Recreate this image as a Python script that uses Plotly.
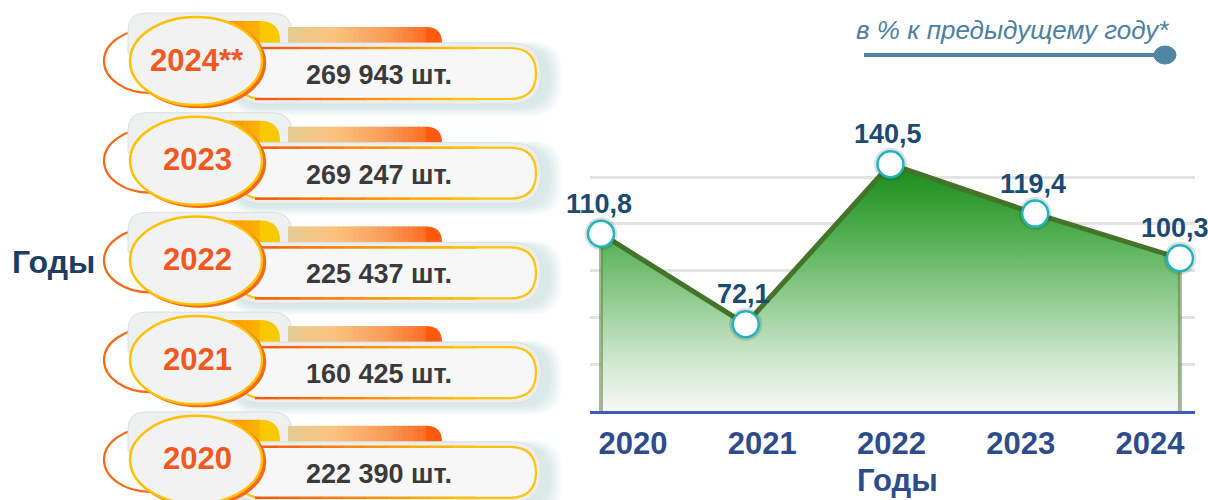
import plotly.graph_objects as go

# ---------------- data ----------------
YEARS = ["2020", "2021", "2022", "2023", "2024"]
PCT = [110.8, 72.1, 140.5, 119.4, 100.3]          # в % к предыдущему году
ROW_LABELS = ["2024**", "2023", "2022", "2021", "2020"]
ROW_COUNTS = [269943, 269247, 225437, 160425, 222390]
UNIT = "шт."
LEGEND_TEXT = "в % к предыдущему году*"
AXIS_TITLE = "Годы"

W, H = 1208, 500
Y_MIN, Y_MAX = 35, 146.6

# ---------------- helpers ----------------
def hex2rgb(h):
    h = h.lstrip("#")
    return tuple(int(h[i:i + 2], 16) for i in (0, 2, 4))

def lerp_color(stops, t):
    for (p0, c0), (p1, c1) in zip(stops[:-1], stops[1:]):
        if p0 <= t <= p1:
            f = 0 if p1 == p0 else (t - p0) / (p1 - p0)
            a, b = hex2rgb(c0), hex2rgb(c1)
            return "rgb(%d,%d,%d)" % tuple(round(a[i] + (b[i] - a[i]) * f) for i in range(3))
    return "rgb(%d,%d,%d)" % hex2rgb(stops[-1][1])

def rrect_path(x0, y0, x1, y1, r):
    tl, tr, br, bl = r
    return (f"M{x0+tl},{y0} L{x1-tr},{y0} Q{x1},{y0} {x1},{y0+tr} "
            f"L{x1},{y1-br} Q{x1},{y1} {x1-br},{y1} L{x0+bl},{y1} "
            f"Q{x0},{y1} {x0},{y1-bl} L{x0},{y0+tl} Q{x0},{y0} {x0+tl},{y0} Z")

shapes = []
annotations = []

def px_shape(**kw):
    kw.setdefault("xref", "x3")
    kw.setdefault("yref", "y3")
    shapes.append(kw)

def rrect(x0, y0, x1, y1, r, fill, line=None, lw=0):
    px_shape(type="path", path=rrect_path(x0, y0, x1, y1, r), fillcolor=fill,
             line=dict(color=line or "rgba(0,0,0,0)", width=lw))

def ellipse(cx, cy, rx, ry, fill, line, lw):
    px_shape(type="circle", x0=cx - rx, x1=cx + rx, y0=cy - ry, y1=cy + ry,
             fillcolor=fill, line=dict(color=line, width=lw))

def grad_tab(x0, y0, x1, y1, r, stops, step=5):
    xe = x1 - r
    x = x0
    while x < xe:
        xn = min(x + step, xe)
        t = ((x + xn) / 2 - x0) / (x1 - x0)
        px_shape(type="rect", x0=x, x1=xn + 0.8, y0=y0, y1=y1,
                 fillcolor=lerp_color(stops, t), line=dict(width=0))
        x = xn
    rrect(xe, y0, x1, y1, (0, r, 0, 0), lerp_color(stops, 1.0))

BOLD = dict(family="Liberation Sans, Arial", weight="bold")

# ---------------- left infographic ----------------
ROW_Y0 = 61
ROW_STEP = 99.7
for i, (lab, cnt) in enumerate(zip(ROW_LABELS, ROW_COUNTS)):
    cy = ROW_Y0 + i * ROW_STEP
    for g in range(6):
        d = 14 - g * 2.5
        rrect(232 - d * 0.3, cy - 14 - d * 0.4, 548 + d, cy + 46 + d * 0.6,
              (30, 30, 30, 30), "rgba(160,200,200,0.07)")
    ellipse(150, cy, 46, 32, "white", "#f26a1a", 2.2)
    rrect(128, cy - 48, 292, cy - 8, (18, 20, 0, 0), "#eef0f0", "rgba(215,220,220,0.9)", 1)
    grad_tab(168, cy - 40, 280, cy - 14, 20,
             [(0, "#ff6a00"), (0.6, "#ff9a00"), (1, "#f8c800")])
    grad_tab(288, cy - 34, 442, cy - 14, 16,
             [(0, "#e2cb93"), (0.3, "#fcc27f"), (0.65, "#f99a55"), (1, "#ff5a0e")])
    rrect(232, cy - 18, 541, cy + 43, (30, 30, 30, 30), "#eceeee", "rgba(220,224,224,1)", 1)
    rrect(237, cy - 13, 536, cy + 38, (26, 26, 26, 26), "#f7f7f7", "#ffc20e", 2.2)
    n = 10
    for k in range(n):
        xa = 255 + k * 22
        col = lerp_color([(0, "#f25a1a"), (1, "#ffc20e")], k / (n - 1))
        for yy in (cy - 13, cy + 38):
            px_shape(type="line", x0=xa, x1=xa + 23, y0=yy, y1=yy,
                     line=dict(color=col, width=2.4))
    ellipse(199, cy + 2, 66, 44, "#f26a1a", "#f26a1a", 2.5)
    ellipse(196, cy, 66, 44, "#f2f2f2", "#ffc000", 2.5)
    annotations.append(dict(x=197, y=cy - 1, xref="x3", yref="y3", text=lab, showarrow=False,
                            font=dict(size=31, color="#f0581f", **BOLD)))
    annotations.append(dict(x=379, y=cy + 14, xref="x3", yref="y3",
                            text=f"{cnt:,}".replace(",", " ") + " " + UNIT, showarrow=False,
                            font=dict(size=27, color="#3a3a3a", **BOLD)))

annotations.append(dict(x=53, y=262, xref="x3", yref="y3", text=AXIS_TITLE, showarrow=False,
                        font=dict(size=32, color="#1d3d63", **BOLD)))

# ---------------- caption (top right) ----------------
annotations.append(dict(x=1012, y=30, xref="x3", yref="y3", text=f"<i>{LEGEND_TEXT}</i>",
                        showarrow=False,
                        font=dict(family="Liberation Sans, Arial", size=26, color="#4d80a0")))
px_shape(type="line", x0=864, x1=1158, y0=55, y1=55, line=dict(color="#4f84a4", width=4))
ellipse(1165, 55, 11, 9, "#4f84a4", "#4f84a4", 1)

annotations.append(dict(x=897, y=480, xref="x3", yref="y3", text=AXIS_TITLE, showarrow=False,
                        font=dict(size=31, color="#2e4c8c", **BOLD)))

# ---------------- right chart ----------------
fig = go.Figure()
fig.add_trace(go.Scatter(x=YEARS, y=[Y_MIN] * len(YEARS), mode="lines",
                         line=dict(width=0, color="rgba(0,0,0,0)"), hoverinfo="skip"))
fig.add_trace(go.Scatter(
    x=YEARS, y=PCT, mode="lines", fill="tonexty",
    fillgradient=dict(type="vertical", start=Y_MIN, stop=max(PCT),
                      colorscale=[[0, "#f5f8f5"], [0.2, "#cfe8cf"], [0.45, "#92cc92"],
                                  [0.72, "#4fae4f"], [1, "#178a17"]]),
    line=dict(color="#44732a", width=5), hoverinfo="skip"))
for k in (0, len(YEARS) - 1):
    fig.add_trace(go.Scatter(x=[YEARS[k], YEARS[k]], y=[Y_MIN, PCT[k]], mode="lines",
                             line=dict(color="rgba(90,130,60,0.55)", width=4), hoverinfo="skip"))
fig.add_trace(go.Scatter(x=YEARS, y=PCT, mode="markers",
                         marker=dict(size=33, color="rgba(40,40,40,0.15)"),
                         cliponaxis=False, hoverinfo="skip"))
fig.add_trace(go.Scatter(
    x=YEARS, y=PCT, mode="markers",
    marker=dict(size=26, color="white", line=dict(color="#1fb5c0", width=2.5)),
    cliponaxis=False, hoverinfo="skip"))
for k, v in enumerate(PCT):
    annotations.append(dict(x=k, y=v, xref="x", yref="y", text=f"{v:.1f}".replace(".", ","),
                            showarrow=False, yshift=30, xshift=(-5 if k == len(PCT) - 1 else -2),
                            font=dict(size=27, color="#1b4a72", **BOLD)))
fig.add_trace(go.Scatter(x=[0], y=[Y_MIN], xaxis="x2", yaxis="y", mode="markers",
                         marker=dict(opacity=0), hoverinfo="skip"))
fig.add_trace(go.Scatter(x=[0], y=[0], xaxis="x3", yaxis="y3", mode="markers",
                         marker=dict(opacity=0), hoverinfo="skip"))

XD = [590 / W, 1195 / W]
YD = [1 - 411 / H, 1 - 150 / H]

fig.update_layout(
    width=W, height=H, margin=dict(l=0, r=0, t=0, b=0),
    paper_bgcolor="white", plot_bgcolor="rgba(0,0,0,0)",
    showlegend=False, separators=", ",
    xaxis=dict(domain=XD, type="category", range=[-0.076, 4.104], showgrid=False,
               showline=True, linecolor="#3c5cb8", linewidth=3, showticklabels=False,
               zeroline=False, anchor="y"),
    yaxis=dict(domain=YD, range=[Y_MIN, Y_MAX], tick0=55, dtick=20, showgrid=True,
               gridcolor="#e3e3e3", gridwidth=3, showticklabels=False, zeroline=False,
               showline=False),
    xaxis2=dict(domain=XD, overlaying="x", anchor="y", side="bottom", range=[-0.333, 4.348],
                tickmode="array", tickvals=list(range(len(YEARS))), ticktext=YEARS,
                tickfont=dict(size=31, color="#2e4c8c", **BOLD),
                ticks="outside", ticklen=5, tickcolor="rgba(0,0,0,0)",
                showgrid=False, showline=False, zeroline=False),
    xaxis3=dict(domain=[0, 1], range=[0, W], visible=False, anchor="y3"),
    yaxis3=dict(domain=[0, 1], range=[H, 0], visible=False, anchor="x3"),
    shapes=shapes, annotations=annotations,
)

fig.write_html("out.html", config={"displayModeBar": False},
               post_script="document.body.style.margin='0';document.body.style.overflow='hidden';")
